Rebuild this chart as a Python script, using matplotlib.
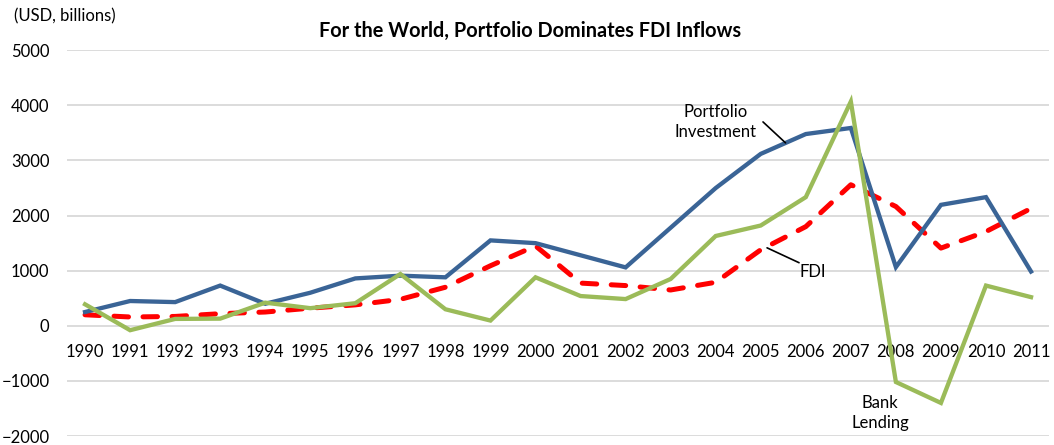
import numpy as np
import matplotlib

matplotlib.use('Agg')
import matplotlib.pyplot as plt

# data (USD billions)
years = list(range(1990, 2012))
portfolio = [250, 450, 430, 730, 400, 600, 860, 910, 880, 1550, 1500, 1280,
             1060, 1780, 2500, 3120, 3480, 3590, 1065, 2195, 2335, 985]
bank = [390, -80, 125, 130, 420, 320, 410, 940, 300, 95, 880, 540,
        485, 850, 1630, 1820, 2335, 4070, -1020, -1400, 730, 520]
fdi = [200, 160, 170, 220, 250, 320, 380, 480, 700, 1090, 1450, 775,
       730, 650, 790, 1380, 1800, 2560, 2165, 1410, 1710, 2130]

plt.rcParams['font.family'] = ['Lato', 'DejaVu Sans']

fig = plt.figure(figsize=(10.54, 4.45), dpi=100)
ax = fig.add_axes([0.0636, 0.0202, 0.9317, 0.8668])

ax.plot(years, portfolio, color='#3A6496', lw=3.1, solid_joinstyle='miter', zorder=3)
ax.plot(years, fdi, color='#FF0000', lw=3.6, dashes=(2.9, 2.9),
        dash_capstyle='round', zorder=2)
ax.plot(years, bank, color='#9BBB59', lw=3.1, solid_joinstyle='miter', zorder=4)

ax.set_xlim(1989.6, 2011.4)
ax.set_ylim(-2000, 5000)
ax.set_yticks(np.arange(-2000, 5001, 1000))
ax.set_xticks(years)
ax.grid(axis='y', color='#D9D9D9', lw=1.3)
ax.set_axisbelow(True)
for s in ['top', 'right', 'left']:
    ax.spines[s].set_visible(False)
ax.spines['bottom'].set_position(('data', 0))
ax.spines['bottom'].set_visible(False)
ax.tick_params(axis='both', length=0, labelsize=12)
ax.tick_params(axis='x', pad=13)
ax.tick_params(axis='y', pad=12.6)

fig.text(0.503, 0.931, 'For the World, Portfolio Dominates FDI Inflows',
         ha='center', va='center', fontsize=14.3, fontweight='bold')
fig.text(0.013, 0.963, '(USD, billions)', ha='left', va='center', fontsize=12)

# series labels with leader lines
ax.text(2004.0, 3700, 'Portfolio\nInvestment', ha='center', va='center',
        fontsize=12, linespacing=1.3)
ax.annotate('', xy=(2005.55, 3320), xytext=(2005.05, 3700),
            arrowprops=dict(arrowstyle='-', color='black', lw=1.2,
                            shrinkA=0, shrinkB=0))
ax.text(2006.16, 980, 'FDI', ha='center', va='center', fontsize=12)
ax.annotate('', xy=(2005.85, 1145), xytext=(2005.14, 1415),
            arrowprops=dict(arrowstyle='-', color='black', lw=1.2,
                            shrinkA=0, shrinkB=0))
ax.text(2007.65, -1580, 'Bank\nLending', ha='center', va='center',
        fontsize=12, linespacing=1.3)

fig.savefig('out.png', dpi=100)
